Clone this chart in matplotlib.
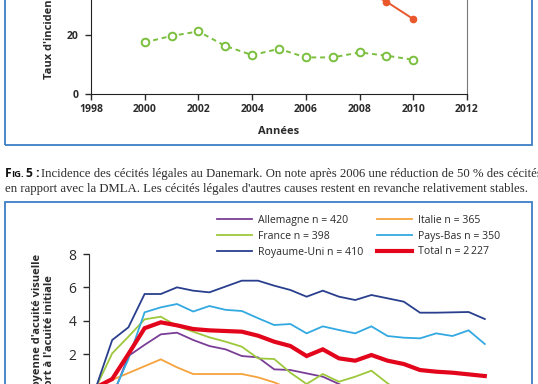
import matplotlib
matplotlib.use("Agg")
import matplotlib.pyplot as plt
from matplotlib.patches import Rectangle

# --- Données graphique du haut (Danemark) ---
annees_autres = [2000, 2001, 2002, 2003, 2004, 2005, 2006, 2007, 2008, 2009, 2010]
autres_causes = [17.5, 19.7, 21.2, 16.3, 13.2, 15.3, 12.4, 12.4, 14.1, 13.0, 11.6]
annees_dmla = [2008, 2009, 2010]
dmla = [36.0, 31.3, 25.4]
xticks_haut = [1998, 2000, 2002, 2004, 2006, 2008, 2010, 2012]
yticks_haut = [0, 20]

# --- Données graphique du bas (mois) ---
mois = list(range(25))
allemagne = [0, -0.6, 1.88, 2.55, 3.18, 3.28, 2.84, 2.48, 2.28, 1.88, 1.8, 1.08, 1.04,
             0.84, 0.64, 0.2, -0.3, -0.5, -0.8, -1.0, -1.2, -1.3, -1.5, -1.6, -1.8]
france = [0, 2.04, 3.04, 4.08, 4.24, 3.68, 3.34, 3.0, 2.74, 2.44, 1.74, 1.7, 0.88,
          0.2, 0.8, 0.34, 0.64, 1.0, 0.24, -0.4, -0.7, -0.9, -1.0, -1.2, -1.3]
royaume_uni = [0, 2.84, 3.6, 5.6, 5.6, 6.0, 5.8, 5.7, 6.05, 6.4, 6.4, 6.1, 5.84,
               5.44, 5.8, 5.44, 5.24, 5.54, 5.34, 5.14, 4.48, 4.48, 4.5, 4.52, 4.1]
italie = [0, 0.45, 0.86, 1.27, 1.68, 1.2, 0.8, 0.8, 0.8, 0.8, 0.6, 0.3, -0.1,
          -0.4, -0.6, -0.8, -1.0, -1.1, -1.2, -1.3, -1.4, -1.5, -1.6, -1.7, -1.8]
pays_bas = [0, -0.5, 1.7, 4.5, 4.8, 5.0, 4.55, 4.88, 4.65, 4.58, 4.15, 3.74, 3.8,
            3.24, 3.66, 3.44, 3.24, 3.66, 3.08, 2.98, 2.94, 3.24, 3.08, 3.42, 2.6]
total = [0, 0.5, 2.0, 3.55, 3.9, 3.72, 3.5, 3.42, 3.38, 3.34, 3.1, 2.74, 2.48,
         1.88, 2.28, 1.74, 1.6, 1.94, 1.6, 1.4, 1.04, 0.94, 0.88, 0.78, 0.68]
yticks_bas = [2, 4, 6, 8]

W, H = 538, 384
def fx(px):
    return px / W
def fy(py):
    return 1 - py / H

plt.rcParams["font.family"] = ["Open Sans", "DejaVu Sans"]
fig = plt.figure(figsize=(W / 100, H / 100), dpi=100)
fig.patch.set_facecolor("white")

bleu_cadre = "#3d7fc6"
texte = "#2b2b2b"

# cadres bleus
fig.patches.append(Rectangle((fx(5), fy(145)), fx(532) - fx(5), 1.0, transform=fig.transFigure,
                             fill=False, edgecolor=bleu_cadre, lw=1.3))
fig.patches.append(Rectangle((fx(5), fy(460)), fx(532) - fx(5), (460 - 202) / H,
                             transform=fig.transFigure, fill=False, edgecolor=bleu_cadre, lw=1.3))

# ---------- graphique du haut ----------
y0, px_par_unite = 94, 2.95
haut = 60
ax1 = fig.add_axes([fx(91), fy(y0), fx(467) - fx(91), haut * px_par_unite / H])
ax1.plot(annees_autres, autres_causes, color="#7bbf3f", lw=1.4, ls=(0, (2.5, 2)),
         marker="o", ms=5.5, mfc="white", mec="#7bbf3f", mew=1.4)
ax1.plot(annees_dmla, dmla, color="#e9572b", lw=1.4, marker="o", ms=4.5,
         mfc="#e9572b", mec="#e9572b")
ax1.set_xlim(1998, 2012)
ax1.set_ylim(0, haut)
ax1.set_xticks(xticks_haut)
ax1.set_yticks(yticks_haut)
for lab in ax1.get_xticklabels() + ax1.get_yticklabels():
    lab.set_fontweight("bold")
ax1.tick_params(direction="out", length=4, width=1, labelsize=7.5, colors=texte, pad=3)
ax1.tick_params(axis="y", pad=5)
for s in ["left", "bottom"]:
    ax1.spines[s].set_color("#222222")
ax1.spines["right"].set_color("#777777")
ax1.spines["top"].set_visible(False)
# titre d'axe coupé par le bord haut, comme dans la page d'origine
fig.text(fx(50), fy(79), "Taux d'inciden", rotation=90,
         ha="center", va="bottom", fontsize=8, fontweight="bold", color=texte)
fig.text(fx(279), fy(132), "Années", ha="center", va="center", fontsize=8,
         fontweight="bold", color=texte)

# ---------- légende de figure ----------
renderer = fig.canvas.get_renderer()

def run(x, y, s, **kw):
    t = fig.text(fx(x), fy(y), s, ha="left", va="baseline", **kw)
    return x + t.get_window_extent(renderer).width

x = run(5, 177.5, "F", fontsize=8.7, fontweight="bold", color="#111111")
x = run(x, 177.5, "IG.", fontsize=6.8, fontweight="bold", color="#111111")
x = run(x + 1.5, 177.5, "5 :", fontsize=8.7, fontweight="bold", color="#111111")
run(x + 2, 177.5, "Incidence des cécités légales au Danemark. On note après 2006 une "
    "réduction de 50 % des cécités", fontsize=9.2, family="Liberation Serif", color=texte)
run(5, 191.5, "en rapport avec la DMLA. Les cécités légales d'autres causes restent en "
    "revanche relativement stables.", fontsize=9.2, family="Liberation Serif", color=texte)

# ---------- graphique du bas ----------
y8, px_u = 254, 16.67
ybas = -4
x0, px_m = 96, 16.2
xg, xd = -0.43, 26
ax2 = fig.add_axes([fx(x0 + xg * px_m), fy(y8 + (8 - ybas) * px_u),
                    (xd - xg) * px_m / W, (8 - ybas) * px_u / H])
series = [
    ("Allemagne n = 420", allemagne, "#7a3e97", 1.3),
    ("France n = 398", france, "#9dc83c", 1.3),
    ("Royaume-Uni n = 410", royaume_uni, "#293f8e", 1.3),
    ("Italie n = 365", italie, "#f6a23c", 1.3),
    ("Pays-Bas n = 350", pays_bas, "#33a9e1", 1.3),
    ("Total n = 2\u2009227", total, "#e3051b", 3.0),
]
handles = []
for nom, vals, coul, lw in series:
    h, = ax2.plot(mois, vals, color=coul, lw=lw, label=nom,
                  zorder=3 if lw > 2 else 2, solid_joinstyle="miter")
    handles.append(h)
ax2.set_xlim(xg, xd)
ax2.set_ylim(ybas, 8)
ax2.set_yticks(yticks_bas)
ax2.set_xticks([])
for s in ["top", "right", "bottom"]:
    ax2.spines[s].set_visible(False)
ax2.spines["left"].set_color("#333333")
ax2.tick_params(axis="y", direction="out", length=4, width=1, labelsize=10,
                colors=texte, pad=5)

fig.legend(handles=handles, ncol=2, loc="upper left",
           bbox_to_anchor=(fx(217), fy(215)), frameon=False, fontsize=7.6,
           handlelength=3.3, handletextpad=0.6, columnspacing=1.3,
           labelspacing=0.45, borderpad=0, borderaxespad=0, labelcolor=texte)

# titre d'axe sur deux lignes, coupé par le bord bas comme dans la page d'origine
fig.text(fx(38), fy(254), "Variation moyenne d'acuité visuelle", rotation=90,
         ha="center", va="top", fontsize=8, fontweight="bold", color=texte)
fig.text(fx(50), fy(275), "par rapport à l'acuité initiale", rotation=90,
         ha="center", va="top", fontsize=8, fontweight="bold", color=texte)

fig.savefig("out.png", dpi=100)
